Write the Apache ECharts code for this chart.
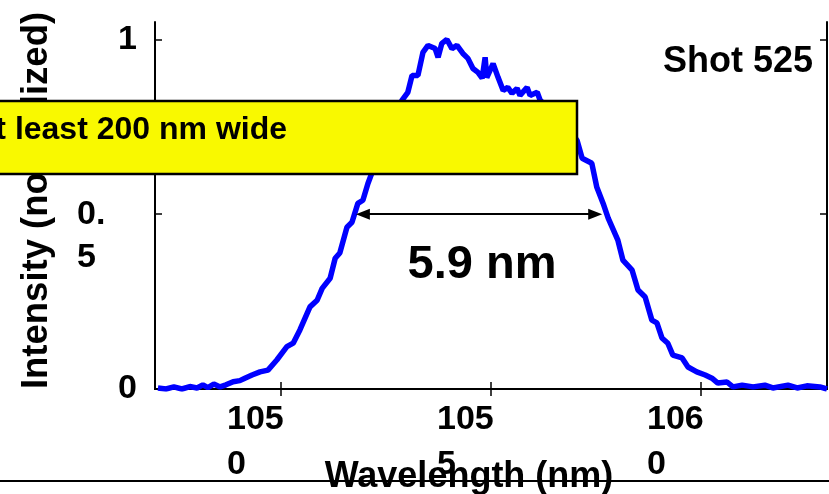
<!DOCTYPE html>
<html>
<head>
<meta charset="utf-8">
<script src="https://cdn.jsdelivr.net/npm/echarts@6/dist/echarts.min.js"></script>
<style>
  html, body { margin: 0; padding: 0; background: #fff; }
  #chart { width: 829px; height: 494px; }
</style>
</head>
<body>
<div id="chart"></div>
<script>
// spectrum (nm, normalized intensity)
var wavelength = [1047.07,1047.26,1047.45,1047.64,1047.83,1048.00,1048.14,1048.26,1048.40,1048.55,1048.69,1048.86,
  1049.02,1049.14,1049.31,1049.50,1049.69,1049.90,1050.14,1050.29,1050.45,1050.69,1050.86,1050.98,1051.17,1051.29,
  1051.40,1051.57,1051.69,1051.83,1051.95,1052.07,1052.17,1052.36,1052.60,1052.79,1052.88,1053.02,1053.12,1053.26,
  1053.38,1053.50,1053.67,1053.74,1053.83,1053.95,1054.07,1054.19,1054.33,1054.45,1054.57,1054.69,1054.79,1054.86,
  1054.90,1055.05,1055.17,1055.29,1055.40,1055.50,1055.62,1055.69,1055.86,1055.93,1056.10,1056.17,1056.40,1056.64,
  1056.88,1057.05,1057.17,1057.40,1057.52,1057.67,1057.79,1058.02,1058.14,1058.36,1058.50,1058.67,1058.83,1058.95,
  1059.07,1059.21,1059.33,1059.55,1059.69,1059.90,1060.10,1060.26,1060.40,1060.62,1060.76,1060.98,1061.24,1061.52,
  1061.71,1062.07,1062.29,1062.52,1062.83,1063.00];
var intensity = [0.003,0.000,0.006,0.000,0.007,0.003,0.012,0.004,0.014,0.006,0.012,0.021,
  0.024,0.031,0.040,0.049,0.054,0.083,0.121,0.131,0.169,0.235,0.254,0.288,0.317,0.374,
  0.389,0.463,0.477,0.531,0.540,0.588,0.620,0.669,0.740,0.800,0.826,0.849,0.897,0.897,
  0.963,0.983,0.974,0.949,0.989,1.000,0.974,0.983,0.960,0.946,0.917,0.906,0.889,0.949,
  0.891,0.931,0.891,0.854,0.863,0.846,0.860,0.840,0.863,0.840,0.849,0.826,0.800,0.774,
  0.740,0.711,0.660,0.646,0.577,0.531,0.489,0.426,0.369,0.340,0.283,0.263,0.197,0.189,
  0.146,0.131,0.097,0.089,0.063,0.049,0.040,0.031,0.017,0.020,0.006,0.011,0.006,0.011,
  0.003,0.011,0.003,0.009,0.006,0.000];

var xTicks = [1050, 1055, 1060];
var xTickLabels = ['105\n0', '105\n5', '106\n0'];
var yTicks = [0, 0.5, 1];
var yTickLabels = ['0', '0.\n5', '1'];

// FWHM arrow ends
var fwhm = [1051.95, 1057.48];
var fwhmLevel = 0.5;

var FONT = 'Liberation Sans';
var data = wavelength.map(function (w, i) { return [w, intensity[i]]; });

var tickFont = { fontFamily: FONT, fontWeight: 'bold', fontSize: 34, color: '#000' };

var chart = echarts.init(document.getElementById('chart'));
chart.setOption({
  animation: false,
  backgroundColor: '#fff',
  grid: { left: 155, right: 2, top: 22, bottom: 105, containLabel: false, outerBoundsMode: 'none' },
  xAxis: [{
    type: 'value', min: 1047, max: 1063,
    name: 'Wavelength (nm)', nameLocation: 'middle', nameGap: 70, nameMoveOverlap: false,
    nameTextStyle: { fontFamily: FONT, fontWeight: 'bold', fontSize: 36, color: '#000', padding: [0, 44, 0, 0] },
    axisLine: { show: true, lineStyle: { color: '#000', width: 2 } },
    axisTick: { inside: true, length: 7, customValues: xTicks, lineStyle: { color: '#000', width: 1.5 } },
    axisLabel: {
      margin: 8, customValues: xTicks,
      formatter: function (v) {
        var s = xTickLabels[xTicks.indexOf(v)] || '';
        return s.split('\n').map(function (l) { return '{c|' + l + '}'; }).join('\n');
      },
      rich: { c: Object.assign({ width: 108, align: 'left', lineHeight: 45 }, tickFont) }
    },
    splitLine: { show: false }
  }, {
    type: 'value', min: 1047, max: 1063, position: 'top',
    axisLine: { show: true, lineStyle: { color: '#000', width: 2 } },
    axisTick: { inside: true, length: 7, customValues: xTicks, lineStyle: { color: '#000', width: 1.5 } },
    axisLabel: { show: false },
    splitLine: { show: false }
  }],
  yAxis: [{
    type: 'value', min: 0, max: 1.05,
    name: 'Intensity (normalized)', nameLocation: 'middle', nameGap: 100, nameMoveOverlap: false,
    nameTextStyle: { fontFamily: FONT, fontWeight: 'bold', fontSize: 36.5, color: '#000', padding: [0, 0, 0, 10] },
    axisLine: { show: true, lineStyle: { color: '#000', width: 2 } },
    axisTick: { inside: true, length: 7, customValues: yTicks, lineStyle: { color: '#000', width: 1.5 } },
    axisLabel: {
      margin: 18, customValues: yTicks,
      formatter: function (v) {
        var s = yTickLabels[yTicks.indexOf(v)] || '';
        var lines = s.split('\n');
        if (lines.length === 1) return '{a|' + s + '}';
        return '{b| }\n' + lines.map(function (l) { return '{b|' + l + '}'; }).join('\n');
      },
      rich: {
        a: Object.assign({ lineHeight: 43 }, tickFont),
        b: Object.assign({ width: 60, align: 'left', lineHeight: 43 }, tickFont)
      }
    },
    splitLine: { show: false }
  }, {
    type: 'value', min: 0, max: 1.05, position: 'right',
    axisLine: { show: true, lineStyle: { color: '#000', width: 2 } },
    axisTick: { inside: true, length: 7, customValues: yTicks, lineStyle: { color: '#000', width: 1.5 } },
    axisLabel: { show: false },
    splitLine: { show: false }
  }],
  series: [{
    type: 'line',
    data: data,
    symbol: 'none',
    lineStyle: { color: '#0000ff', width: 5.5 },
    silent: true,
    markLine: {
      silent: true,
      symbol: ['triangle', 'triangle'],
      symbolSize: [11, 14],
      label: { show: false },
      lineStyle: { color: '#000', width: 2, type: 'solid' },
      data: [[{ coord: [fwhm[0], fwhmLevel] }, { coord: [fwhm[1], fwhmLevel] }]]
    }
  }],
  graphic: [
    {
      type: 'text', z: 50, right: 16, top: 44,
      style: { text: 'Shot 525', fontFamily: FONT, fontWeight: 'bold', fontSize: 36, fill: '#000' }
    },
    {
      type: 'text', z: 50, x: 482, y: 265,
      style: { text: '5.9 nm', fontFamily: FONT, fontWeight: 'bold', fontSize: 47, fill: '#000', align: 'center', verticalAlign: 'middle' }
    },
    {
      type: 'rect', z: 100,
      shape: { x: -20, y: 101, width: 597, height: 73 },
      style: { fill: '#f9f900', stroke: '#000', lineWidth: 2.5 }
    },
    {
      type: 'text', z: 101, x: 287, y: 130,
      style: { text: 'At least 200 nm wide', fontFamily: FONT, fontWeight: 'bold', fontSize: 32, fill: '#000', align: 'right', verticalAlign: 'middle' }
    },
    {
      type: 'line', z: 100,
      shape: { x1: 0, y1: 481, x2: 829, y2: 481 },
      style: { stroke: '#000', lineWidth: 2 }
    }
  ]
});
</script>
</body>
</html>
